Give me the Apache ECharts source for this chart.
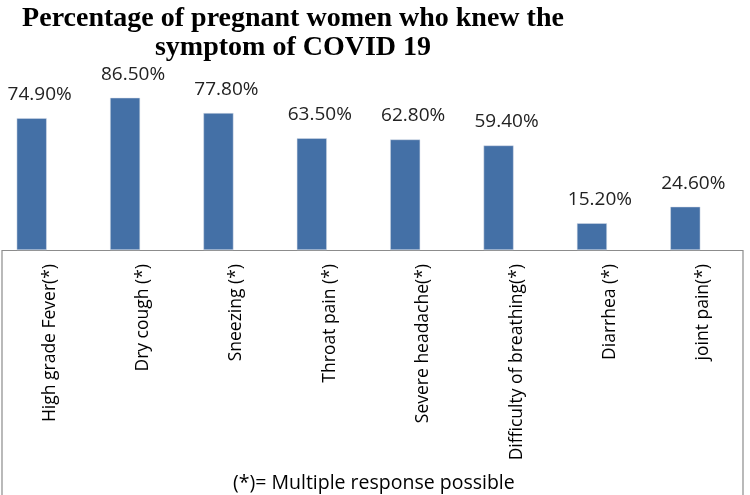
<!DOCTYPE html>
<html><head><meta charset="utf-8">
<script src="https://cdn.jsdelivr.net/npm/echarts@6/dist/echarts.min.js"></script>
<style>html,body{margin:0;padding:0;background:#fff}#c{width:750px;height:495px}</style>
</head><body><div id="c"></div>
<script>
var categories = ["High grade Fever(*)", "Dry cough (*)", "Sneezing (*)", "Throat pain (*)", "Severe headache(*)", "Difficulty of breathing(*)", "Diarrhea (*)", "joint pain(*)"];
var values = [74.9, 86.5, 77.8, 63.5, 62.8, 59.4, 15.2, 24.6];
var titleLines = ["Percentage of pregnant women who knew the", "symptom of COVID 19"];
var footnote = "(*)= Multiple response possible";

var chart = echarts.init(document.getElementById('c'));
chart.setOption({
  animation: false,
  title: {
    text: titleLines.join('\n'),
    left: 288, top: -1, textAlign: 'center',
    textStyle: {fontFamily: 'Liberation Serif', fontWeight: 'bold', fontSize: 28, lineHeight: 29, color: '#000'}
  },
  grid: {left: -15, width: 747, top: 74, bottom: 245, containLabel: false, outerBoundsMode: 'none'},
  xAxis: {
    type: 'category', data: categories,
    axisLine: {show: false}, axisTick: {show: false},
    axisLabel: {rotate: 90, interval: 0, margin: 14, color: '#000',
      formatter: function(v){ return '{s| }\n{t|' + v + '}'; },
      rich: {s: {height: 36, fontSize: 2}, t: {fontFamily: 'Open Sans', fontSize: 17.5, color: '#000'}}}
  },
  yAxis: {type: 'value', min: 0, max: 100, show: false, splitLine: {show: false}},
  series: [{
    type: 'bar', data: values, barWidth: 30,
    itemStyle: {color: '#4470a6', borderColor: '#d8dee8', borderWidth: 0.5},
    label: {show: true, position: 'top', distance: 14, offset: [8, 0], fontFamily: 'Open Sans', fontSize: 19, color: '#222',
      formatter: function(p){ return p.value.toFixed(2) + '%'; }}
  }],
  graphic: [
    {type: 'polyline', shape: {points: [[2, 495], [2, 250.5], [743, 250.5], [743, 495]]}, style: {stroke: '#8c8c8c', lineWidth: 1.2, fill: null}},
    {type: 'text', left: 233, top: 473, style: {text: footnote, fontFamily: 'Open Sans', fontSize: 19.5, fill: '#000'}}
  ]
});
</script></body></html>
